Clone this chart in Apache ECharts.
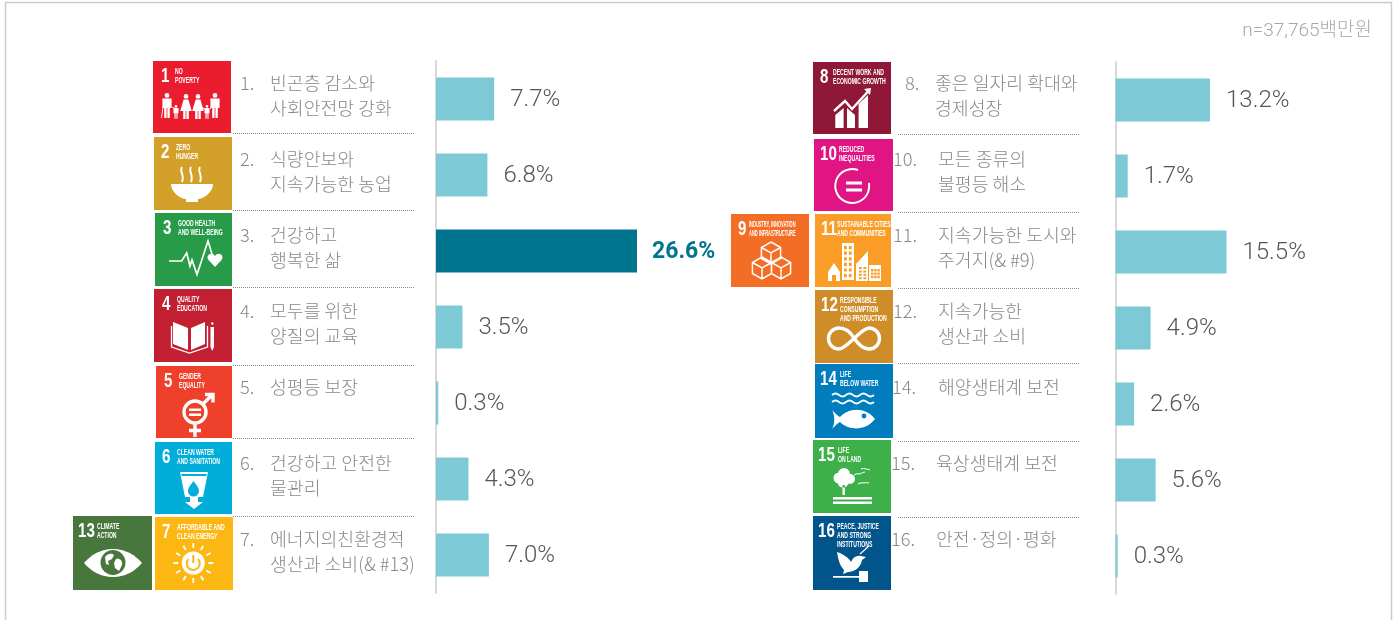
<!DOCTYPE html>
<html>
<head>
<meta charset="utf-8">
<style>
html, body { margin: 0; padding: 0; background: #fff; }
#chart { width: 1396px; height: 620px; }
</style>
<script src="https://cdn.jsdelivr.net/npm/echarts@6/dist/echarts.min.js"></script>
</head>
<body>
<div id="chart"></div>
<script>
// 왼쪽 패널
var leftNums = ['1.', '2.', '3.', '4.', '5.', '6.', '7.'];
var leftNames = ['빈곤층 감소와\n사회안전망 강화', '식량안보와\n지속가능한 농업', '건강하고\n행복한 삶', '모두를 위한\n양질의 교육', '성평등 보장', '건강하고 안전한\n물관리', '에너지의친환경적\n생산과 소비(& #13)'];
var leftValues = [7.7, 6.8, 26.6, 3.5, 0.3, 4.3, 7.0];
// 오른쪽 패널
var rightNums = ['8.', '10.', '11.', '12.', '14.', '15.', '16.'];
var rightNames = ['좋은 일자리 확대와\n경제성장', '모든 종류의\n불평등 해소', '지속가능한 도시와\n주거지(& #9)', '지속가능한\n생산과 소비', '해양생태계 보전', '육상생태계 보전', '안전·정의·평화'];
var rightValues = [13.2, 1.7, 15.5, 4.9, 2.6, 5.6, 0.3];
var highlightValue = 26.6;
var noteText = 'n=37,765백만원';

var GRAY_TEXT = '#888888';
var BAR = '#7dc9d5';
var BAR_HI = '#00758f';
var SANS = '"Noto Sans CJK KR", sans-serif';
var NUM_FONT = 'Roboto, sans-serif';

// SDG 타일: [번호, 제목, 색, x, y, w, h, 번호x, 제목x]
var tiles = [
    ['1', 'NO\nPOVERTY', '#EB1C2D', 153, 61, 78, 72, 8, 22],
    ['2', 'ZERO\nHUNGER', '#D3A029', 154, 137, 78, 73, 7, 22],
    ['3', 'GOOD HEALTH\nAND WELL-BEING', '#279B48', 155, 213, 77, 73, 8, 23],
    ['4', 'QUALITY\nEDUCATION', '#C31F33', 154, 289, 78, 73, 8, 23],
    ['5', 'GENDER\nEQUALITY', '#EF402B', 156, 366, 76, 72, 8, 23],
    ['6', 'CLEAN WATER\nAND SANITATION', '#00AED9', 155, 442, 77, 72, 7, 22],
    ['7', 'AFFORDABLE AND\nCLEAN ENERGY', '#FDB713', 155, 517, 78, 73, 7, 22],
    ['13', 'CLIMATE\nACTION', '#48773E', 73, 516, 79, 74, 5, 24],
    ['8', 'DECENT WORK AND\nECONOMIC GROWTH', '#8F1838', 813, 62, 78, 72, 7, 20],
    ['10', 'REDUCED\nINEQUALITIES', '#E11484', 814, 139, 79, 72, 6, 25],
    ['9', 'INDUSTRY, INNOVATION\nAND INFRASTRUCTURE', '#F36D25', 731, 214, 78, 73, 7, 18],
    ['11', 'SUSTAINABLE CITIES\nAND COMMUNITIES', '#F99D26', 815, 214, 76, 73, 6, 22],
    ['12', 'RESPONSIBLE\nCONSUMPTION\nAND PRODUCTION', '#CF8D2A', 815, 290, 78, 73, 6, 25],
    ['14', 'LIFE\nBELOW WATER', '#007DBC', 815, 364, 78, 74, 5, 25],
    ['15', 'LIFE\nON LAND', '#3EB049', 813, 440, 78, 73, 5, 25],
    ['16', 'PEACE, JUSTICE\nAND STRONG\nINSTITUTIONS', '#02558B', 813, 516, 78, 74, 5, 24]
];

// 점선 구분선
var leftRules = [133, 210, 287, 365, 438, 516];
var rightRules = [134, 212, 288, 363, 441, 517];

function circ(x, y, r) {
    return 'M' + (x - r) + ' ' + y + 'a' + r + ' ' + r + ' 0 1 0 ' + (2 * r) + ' 0a' + r + ' ' + r + ' 0 1 0 ' + (-2 * r) + ' 0Z';
}
function box(x, y, w, h) {
    return 'M' + x + ' ' + y + 'h' + w + 'v' + h + 'h' + (-w) + 'Z';
}
function man(cx, t, k) {
    var s = k || 1;
    return circ(cx, t + 2.4 * s, 2.4 * s) +
        'M' + (cx - 4.6 * s) + ' ' + (t + 5.6 * s) + 'h' + (9.2 * s) + 'v' + (9.4 * s) + 'h' + (-1.8 * s) + 'v' + (10 * s) + 'h' + (-5.6 * s) + 'v' + (-10 * s) + 'h' + (-1.8 * s) + 'Z';
}
function woman(cx, t, k) {
    var s = k || 1;
    return circ(cx, t + 2.4 * s, 2.4 * s) +
        'M' + (cx - 2.4 * s) + ' ' + (t + 5.6 * s) + 'h' + (4.8 * s) + 'l' + (3.4 * s) + ' ' + (11.4 * s) + 'h' + (-3 * s) + 'v' + (8 * s) + 'h' + (-5.6 * s) + 'v' + (-8 * s) + 'h' + (-3 * s) + 'Z';
}
function rays(cx, cy, r1, r2, n) {
    var d = '';
    for (var i = 0; i < n; i++) {
        var a = i * 2 * Math.PI / n;
        d += 'M' + (cx + r1 * Math.cos(a)) + ' ' + (cy + r1 * Math.sin(a)) + 'L' + (cx + r2 * Math.cos(a)) + ' ' + (cy + r2 * Math.sin(a));
    }
    return d;
}
function cube(cx, cy, r) {
    var h = r * 0.87;
    return 'M' + cx + ' ' + (cy - r) + 'L' + (cx + h) + ' ' + (cy - r / 2) + 'V' + (cy + r / 2) + 'L' + cx + ' ' + (cy + r) + 'L' + (cx - h) + ' ' + (cy + r / 2) + 'V' + (cy - r / 2) + 'Z' +
        'M' + (cx - h) + ' ' + (cy - r / 2) + 'L' + cx + ' ' + cy + 'L' + (cx + h) + ' ' + (cy - r / 2) + 'M' + cx + ' ' + cy + 'V' + (cy + r);
}
function windows(x, y, cols, rows, w, h, gx, gy) {
    var d = '';
    for (var r = 0; r < rows; r++) {
        for (var c = 0; c < cols; c++) {
            d += box(x + c * (w + gx), y + r * (h + gy), w, h);
        }
    }
    return d;
}

// 아이콘은 타일 안쪽 좌표(약 78x73), f: 흰 면, s: 흰 선, c: 타일색 면, cs: 타일색 선
var icons = {
    '1': {
        f: man(14, 32) + man(62, 32) + woman(33, 33) + woman(45, 33) + man(23, 44, 0.55) + man(54, 44, 0.55),
        s: 'M19 46L23 48M28 48L30 46M48 46L52 48M57 48L59 46M8.5 57L10 46', w: 0.9,
        cs: 'M14 47V57.5M62 47V57.5M33 50V58.5M45 50V58.5M23 52.5V58M54 52.5V58', cw: 0.8
    },
    '2': { f: 'M17 47H59C59 55 50 62 44 62V65H32V62C26 62 17 55 17 47Z', s: 'M28 30C25 34 31 38 28 45M37 30C34 34 40 38 37 45M46 30C43 34 49 38 46 45', w: 2 },
    '3': { f: 'M60 54L53.5 47C50 42 57 38 60 43C63 38 70 42 66.5 47Z', s: 'M14 48H26.7L31.7 40L35 53L37 47L42 61.5L53 28L57 41', w: 1.7 },
    '4': { f: 'M19 33L34 39V61L19 55ZM37 39L51 33V55L37 61ZM56.5 38H60V58L58.3 62L56.5 58Z' + circ(58.3, 34.5, 1.2), s: 'M17.5 37V58L35.5 64L53.5 58V37', w: 1.3 },
    '5': { s: circ(39, 46, 11) + 'M47 38L56 29M49 28.5H57V36.5M39 57V71M33 64.5H45', w: 3.4, f: box(33, 42.5, 12, 2.6) + box(33, 47.5, 12, 2.6) },
    '6': { f: 'M25 30H53L48 55H43V60H48L39 67L30 60H35V55H30Z', c: 'M38.5 39C42 44 44 46 44 49A5.5 5.5 0 0 1 33 49C33 46 35 44 38.5 39Z' + box(26.5, 32, 25, 2) },
    '7': { f: circ(38.3, 46, 11.5), s: rays(38.3, 46, 15, 20, 12), w: 1.8, cs: 'M33.5 42A6.5 6.5 0 1 0 43 42M38.3 38V46', cw: 2 },
    '8': { f: 'M22.3 53L30.6 46V66H22.3ZM34 46L42 53V66H34ZM45.6 42L55 33V66H45.6Z' + 'M51 27L58 26L57 33Z', s: 'M21 49L32 39L39 47L55 29.5', w: 2.4 },
    '10': { s: 'M44 31A17 17 0 1 0 55 44', w: 2, f: box(32, 42.5, 16, 3) + box(32, 49.5, 16, 3) },
    '9': { s: cube(40, 39, 11) + cube(31, 54, 11) + cube(50, 54, 11), w: 1.5 },
    '11': {
        f: 'M13 58L19 49L25 58V67H13Z' + box(27, 29, 12, 37) + 'M41 67V50L53 37V67Z' + box(54, 51, 12, 16),
        c: windows(29, 32, 2, 6, 2.8, 3.2, 2, 2.4) + windows(44, 53, 2, 4, 2.8, 2, 1.6, 1.4) + windows(56, 55, 3, 3, 2.4, 2.4, 0.8, 1) + box(17, 61, 4, 6)
    },
    '12': { s: 'M39 48C33 38 27 38 24 38A10.5 10.5 0 0 0 24 59C32 59 46 38 54 38A10.5 10.5 0 0 1 54 59C50 59 45 57 39 48', w: 3.4 },
    '14': {
        f: 'M17 46C21 50 24 53 25 53C33 44 50 42 60 55C50 68 33 66 25 58C24 58 21 61 17 65C20 60 20 51 17 46Z',
        s: 'M17 31q3.5 -3 7 0t7 0t7 0t7 0t7 0t7 0M17 38q3.5 -3 7 0t7 0t7 0t7 0t7 0t7 0', w: 1.7,
        c: circ(49, 52, 2.4)
    },
    '15': {
        f: circ(26, 38, 5.5) + circ(31, 34, 6) + circ(37, 39, 5) + circ(30, 42, 5.5) + box(29.5, 45, 2.4, 10) + box(20, 57, 39, 2.4) + box(20, 61.5, 39, 2.4),
        s: 'M41 35q3 -2 6 -1q3 -2 5 -2M48 29q3 -1 5 0q2 0 4 1M45 44q3 -2 6 -1q3 -1 5 0', w: 1
    },
    '16': {
        f: 'M24 36C30 38 36 42 38 46C40 41 44 39 48 40L53 41L49 44C48 51 42 56 35 56L30 58L31 54C27 50 25 43 24 36Z' + box(20, 60, 26, 1.8) + box(46, 55, 9, 11),
        s: 'M47 38L56 30', w: 1.2
    },
    '13': {
        f: 'M11 47C22 34 35 33 40 33C45 33 58 34 69 47C58 60 45 61 40 61C35 61 22 60 11 47Z',
        c: circ(40, 46.5, 12.5),
        f2: 'M32 41C35 37 39 37 41 39L39 43L35 45L36 49L33 48ZM43 43C47 42 50 45 49 49L46 55L42 52L41 47Z'
    }
};

function iconPath(d, style) {
    // M0 0 M78 73 으로 경계 상자를 타일 크기로 고정
    return {
        type: 'path',
        shape: { pathData: 'M0 0M78 73' + d, x: 0, y: 0, width: 78, height: 73, layout: 'cover' },
        style: style,
        silent: true
    };
}

function tileElement(t) {
    var children = [
        { type: 'rect', shape: { x: 0, y: 0, width: t[5], height: t[6] }, style: { fill: t[2] } },
        { type: 'text', x: t[7], y: 5, scaleX: 0.72, style: { text: t[0], fill: '#fff', font: 'bold 21px "Liberation Sans", sans-serif' } }
    ];
    var lines = t[1].split('\n');
    var tiny = t[0] === '9';
    lines.forEach(function (line, i) {
        children.push({
            type: 'text', x: t[8], y: 6.5 + i * 8.6, scaleX: tiny ? 0.47 : 0.6,
            style: { text: line, fill: '#fff', font: 'bold 8.5px "Liberation Sans", sans-serif' }
        });
    });
    var ic = icons[t[0]];
    if (ic.f) children.push(iconPath(ic.f, { fill: '#fff' }));
    if (ic.s) children.push(iconPath(ic.s, { fill: 'none', stroke: '#fff', lineWidth: ic.w || 2 }));
    if (ic.c) children.push(iconPath(ic.c, { fill: t[2] }));
    if (ic.cs) children.push(iconPath(ic.cs, { fill: 'none', stroke: t[2], lineWidth: ic.cw || 2 }));
    if (ic.f2) children.push(iconPath(ic.f2, { fill: '#fff' }));
    return { type: 'group', x: t[3], y: t[4], children: children };
}

function ruleElements(ys, x1, x2) {
    return ys.map(function (y) {
        return {
            type: 'line',
            shape: { x1: x1, y1: y + 0.5, x2: x2, y2: y + 0.5 },
            style: { stroke: '#8a8a8a', lineWidth: 1, lineDash: [1, 1] }
        };
    });
}

var frame = {
    type: 'polyline',
    shape: { points: [[5.5, 620], [5.5, 2.5], [1391.5, 2.5], [1391.5, 620]] },
    style: { fill: 'none', stroke: '#cccccc', lineWidth: 1.5 }
};

function categoryLabel(num, name, rowStyle) {
    var parts = name.split('\n');
    var first = '{' + rowStyle + 'n|' + num + '}{t|' + parts[0] + '}';
    var second = '{' + rowStyle + 's|}{t|' + (parts[1] || ' ') + '}';
    return first + '\n' + second;
}

function barData(values) {
    return values.map(function (v) {
        if (v === highlightValue) {
            return {
                value: v,
                itemStyle: { color: BAR_HI },
                label: { color: BAR_HI, fontWeight: 'bold', fontSize: 23, distance: 15 }
            };
        }
        return v;
    });
}

function barSeries(values, axisIndex) {
    return {
        type: 'bar',
        xAxisIndex: axisIndex,
        yAxisIndex: axisIndex,
        data: barData(values),
        barWidth: 43,
        itemStyle: { color: BAR },
        label: {
            show: true,
            position: 'right',
            distance: 16,
            offset: [0, 1],
            color: '#555',
            fontFamily: NUM_FONT,
            fontWeight: 300,
            fontSize: 24,
            formatter: function (p) { return p.value.toFixed(1) + '%'; }
        }
    };
}

function rowRich(numWidth, padLeft) {
    return {
        n: {
            width: numWidth, padding: [0, 0, 0, padLeft], fontFamily: SANS, fontWeight: 300,
            fontSize: 18.3, lineHeight: 25, color: GRAY_TEXT
        },
        s: { width: numWidth, padding: [0, 0, 0, padLeft], fontSize: 18.3, lineHeight: 25 }
    };
}

// 오른쪽 행마다 번호와 글자 위치가 조금씩 다르다: [앞 여백, 번호 칸]
var rightCols = [[14, 30], [2, 45], [2, 45], [2, 45], [1, 46], [0, 45], [0, 45]];

function buildRich(cols) {
    var rich = { t: { fontFamily: SANS, fontWeight: 300, fontSize: 18.3, lineHeight: 25, color: GRAY_TEXT } };
    cols.forEach(function (c, i) {
        var r = rowRich(c[1], c[0]);
        rich['r' + i + 'n'] = r.n;
        rich['r' + i + 's'] = r.s;
    });
    return rich;
}

var leftCols = leftNums.map(function () { return [0, 30]; });

function yAxisOf(gridIndex, names, nums, cols, margin, bottomPad) {
    return {
        type: 'category',
        gridIndex: gridIndex,
        inverse: true,
        data: names,
        axisTick: { show: false },
        axisLine: { show: true, lineStyle: { color: '#d9d9d9', width: 2 } },
        axisLabel: {
            interval: 0,
            align: 'left',
            margin: margin,
            padding: [0, 0, bottomPad, 0],
            rich: buildRich(cols),
            formatter: function (value, index) {
                return categoryLabel(nums[index], value, 'r' + index);
            }
        }
    };
}

var option = {
    animation: false,
    backgroundColor: '#fff',
    title: {
        text: noteText,
        right: 19,
        top: 17,
        textStyle: { fontFamily: 'Roboto, "Noto Sans CJK KR", sans-serif', fontWeight: 300, fontSize: 19, color: '#a8a8a8' }
    },
    grid: [
        { left: 436, top: 61, width: 226.7, height: 532 },
        { left: 1115.5, top: 62, width: 214.8, height: 532 }
    ],
    xAxis: [
        { type: 'value', gridIndex: 0, min: 0, max: 30, show: false },
        { type: 'value', gridIndex: 1, min: 0, max: 30, show: false }
    ],
    yAxis: [
        yAxisOf(0, leftNames, leftNums, leftCols, 196, 6),
        yAxisOf(1, rightNames, rightNums, rightCols, 224.5, 9)
    ],
    series: [
        barSeries(leftValues, 0),
        barSeries(rightValues, 1),
        {
            type: 'custom',
            coordinateSystem: 'none',
            silent: true,
            data: tiles.map(function (t, i) { return i; }),
            renderItem: function (params) {
                return tileElement(tiles[params.dataIndex]);
            }
        }
    ],
    graphic: { elements: [frame].concat(ruleElements(leftRules, 233, 414), ruleElements(rightRules, 898, 1079)) }
};

var myChart = echarts.init(document.getElementById('chart'));
myChart.setOption(option);
</script>
</body>
</html>
